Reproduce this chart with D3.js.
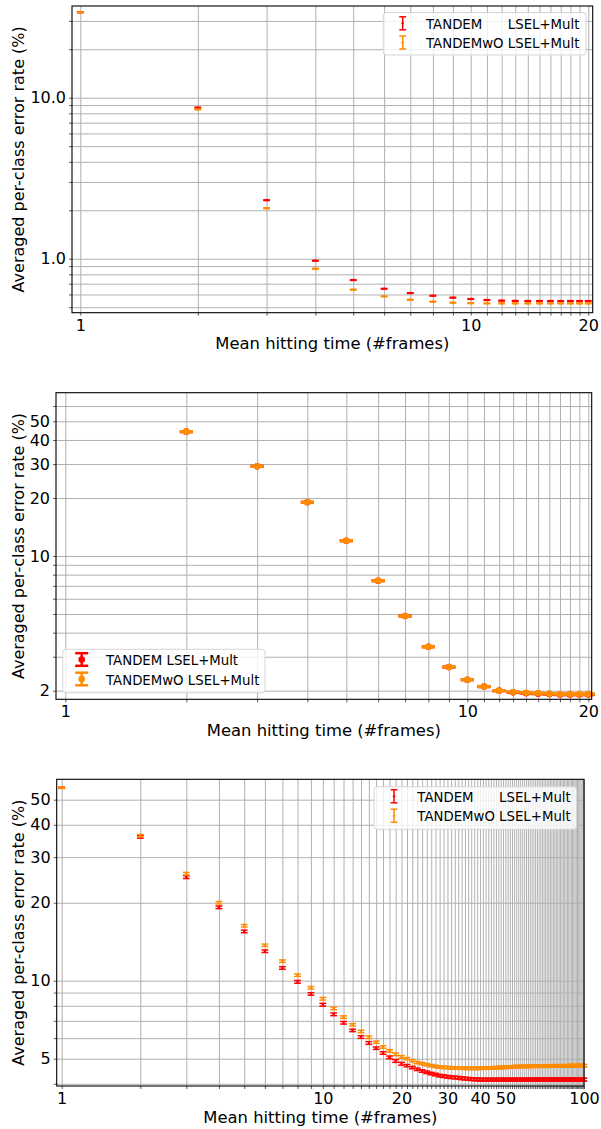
<!DOCTYPE html>
<html>
<head>
<meta charset="utf-8">
<script src="https://cdn.jsdelivr.net/npm/d3@7"></script>
<style>
  body { margin: 0; background: #fff; }
  svg { display: block; }
  text { font-family: "DejaVu Sans", sans-serif; }
</style>
</head>
<body>
<div id="chart"></div>
<script>
// ---- data ----
const seriesNames = ["TANDEM", "TANDEMwO"];
const methodName = "LSEL+Mult";
const colors = ["#ff0000", "#ff8c00"];

// panel 1
const frames1 = [1, 2, 3, 4, 5, 6, 7, 8, 9, 10, 11, 12, 13, 14, 15, 16, 17, 18, 19, 20];
const red1 = [33.9, 8.67, 2.31, 0.972, 0.737, 0.651, 0.612, 0.589, 0.573, 0.562,
  0.554, 0.549, 0.547, 0.546, 0.546, 0.546, 0.546, 0.546, 0.546, 0.546];
const red1Err = [0.15, 0.05, 0.012, 0.005, 0.004, 0.003, 0.003, 0.003, 0.003, 0.003,
  0.003, 0.003, 0.003, 0.003, 0.003, 0.003, 0.003, 0.003, 0.003, 0.003];
const orange1 = [33.9, 8.47, 2.06, 0.867, 0.642, 0.584, 0.556, 0.541, 0.533, 0.530,
  0.528, 0.528, 0.528, 0.528, 0.528, 0.528, 0.528, 0.528, 0.528, 0.528];
const orange1Err = [0.15, 0.05, 0.012, 0.005, 0.004, 0.003, 0.003, 0.003, 0.003, 0.003,
  0.003, 0.003, 0.003, 0.003, 0.003, 0.003, 0.003, 0.003, 0.003, 0.003];
const xTicks1 = [1, 10, 20], xTickLabels1 = ["1", "10", "20"];
const yTicks1 = [1, 10], yTickLabels1 = ["1.0", "10.0"];

// panel 2
const frames2 = [2, 3, 4, 5, 6, 7, 8, 9, 10, 11, 12, 13, 14, 15, 16, 17, 18, 19, 20];
const red2 = [44.2, 29.2, 19.0, 12.0, 7.44, 4.88, 3.38, 2.65, 2.28, 2.10,
  2.00, 1.96, 1.94, 1.93, 1.92, 1.91, 1.91, 1.91, 1.91];
const red2Err = [0.2, 0.13, 0.08, 0.05, 0.03, 0.02, 0.015, 0.012, 0.01, 0.01,
  0.01, 0.01, 0.01, 0.01, 0.01, 0.01, 0.01, 0.01, 0.01];
const orange2 = [44.2, 29.2, 19.0, 12.0, 7.44, 4.88, 3.38, 2.65, 2.28, 2.10,
  2.00, 1.97, 1.95, 1.94, 1.93, 1.92, 1.92, 1.92, 1.92];
const orange2Err = [0.2, 0.13, 0.08, 0.05, 0.03, 0.02, 0.015, 0.012, 0.01, 0.01,
  0.01, 0.01, 0.01, 0.01, 0.01, 0.01, 0.01, 0.01, 0.01];
const xTicks2 = [1, 10, 20], xTickLabels2 = ["1", "10", "20"];
const yTicks2 = [2, 10, 20, 30, 40, 50], yTickLabels2 = ["2", "10", "20", "30", "40", "50"];

// panel 3
const frames3 = d3.range(1, 101);
const red3 = [
  55.6, 35.9, 25.1, 19.2, 15.5, 13.0, 11.2, 9.90, 8.89, 8.08,
  7.42, 6.88, 6.43, 6.06, 5.75, 5.49, 5.26, 5.06, 4.90, 4.78,
  4.70, 4.62, 4.55, 4.48, 4.43, 4.38, 4.34, 4.30, 4.28, 4.26,
  4.24, 4.23, 4.22, 4.20, 4.19, 4.18, 4.17, 4.16, 4.16, 4.15,
  4.15, 4.15, 4.15, 4.15, 4.15, 4.15, 4.15, 4.15, 4.15, 4.15,
  4.15, 4.15, 4.15, 4.15, 4.15, 4.15, 4.15, 4.15, 4.15, 4.15,
  4.15, 4.15, 4.15, 4.15, 4.15, 4.15, 4.15, 4.15, 4.15, 4.15,
  4.15, 4.15, 4.15, 4.15, 4.15, 4.15, 4.15, 4.15, 4.15, 4.15,
  4.15, 4.15, 4.15, 4.15, 4.15, 4.15, 4.15, 4.15, 4.15, 4.15,
  4.15, 4.15, 4.15, 4.15, 4.15, 4.15, 4.15, 4.15, 4.15, 4.15];
const red3Err = [
  0.3, 0.4, 0.3, 0.22, 0.18, 0.15, 0.13, 0.12, 0.1, 0.1,
  0.09, 0.08, 0.07, 0.07, 0.07, 0.06, 0.06, 0.06, 0.06, 0.06,
  0.05, 0.05, 0.05, 0.05, 0.05, 0.05, 0.05, 0.05, 0.05, 0.05,
  0.05, 0.05, 0.05, 0.05, 0.05, 0.05, 0.05, 0.05, 0.05, 0.05,
  0.05, 0.05, 0.05, 0.05, 0.05, 0.05, 0.05, 0.05, 0.05, 0.05,
  0.05, 0.05, 0.05, 0.05, 0.05, 0.05, 0.05, 0.05, 0.05, 0.05,
  0.05, 0.05, 0.05, 0.05, 0.05, 0.05, 0.05, 0.05, 0.05, 0.05,
  0.05, 0.05, 0.05, 0.05, 0.05, 0.05, 0.05, 0.05, 0.05, 0.05,
  0.05, 0.05, 0.05, 0.05, 0.05, 0.05, 0.05, 0.05, 0.05, 0.05,
  0.05, 0.05, 0.05, 0.05, 0.05, 0.05, 0.05, 0.05, 0.05, 0.05];
const orange3 = [
  55.6, 36.3, 25.9, 20.0, 16.3, 13.7, 11.9, 10.5, 9.40, 8.52,
  7.82, 7.24, 6.76, 6.37, 6.05, 5.79, 5.55, 5.36, 5.20, 5.08,
  5.00, 4.91, 4.83, 4.78, 4.74, 4.70, 4.67, 4.64, 4.63, 4.62,
  4.61, 4.60, 4.60, 4.60, 4.59, 4.59, 4.59, 4.59, 4.59, 4.59,
  4.60, 4.60, 4.60, 4.60, 4.61, 4.61, 4.62, 4.62, 4.63, 4.63,
  4.64, 4.64, 4.65, 4.65, 4.66, 4.66, 4.66, 4.67, 4.67, 4.67,
  4.67, 4.67, 4.68, 4.68, 4.68, 4.68, 4.68, 4.68, 4.68, 4.68,
  4.68, 4.68, 4.68, 4.69, 4.69, 4.69, 4.69, 4.69, 4.69, 4.69,
  4.69, 4.69, 4.69, 4.69, 4.69, 4.69, 4.69, 4.70, 4.70, 4.70,
  4.70, 4.70, 4.70, 4.70, 4.70, 4.70, 4.70, 4.70, 4.70, 4.70];
const orange3Err = [
  0.3, 0.4, 0.3, 0.22, 0.18, 0.15, 0.13, 0.12, 0.1, 0.1,
  0.09, 0.08, 0.07, 0.07, 0.07, 0.06, 0.06, 0.06, 0.06, 0.06,
  0.05, 0.05, 0.05, 0.05, 0.05, 0.05, 0.05, 0.05, 0.05, 0.05,
  0.05, 0.05, 0.05, 0.05, 0.05, 0.05, 0.05, 0.05, 0.05, 0.05,
  0.05, 0.05, 0.05, 0.05, 0.05, 0.05, 0.05, 0.05, 0.05, 0.05,
  0.05, 0.05, 0.05, 0.05, 0.05, 0.05, 0.05, 0.05, 0.05, 0.05,
  0.05, 0.05, 0.05, 0.05, 0.05, 0.05, 0.05, 0.05, 0.05, 0.05,
  0.05, 0.05, 0.05, 0.05, 0.05, 0.05, 0.05, 0.05, 0.05, 0.05,
  0.05, 0.05, 0.05, 0.05, 0.05, 0.05, 0.05, 0.05, 0.05, 0.05,
  0.05, 0.05, 0.05, 0.05, 0.05, 0.05, 0.05, 0.05, 0.05, 0.05];
const xTicks3 = [1, 10, 20, 30, 40, 50, 100], xTickLabels3 = ["1", "10", "20", "30", "40", "50", "100"];
const yTicks3 = [5, 10, 20, 30, 40, 50], yTickLabels3 = ["5", "10", "20", "30", "40", "50"];

const xLabel = "Mean hitting time (#frames)";
const yLabel = "Averaged per-class error rate (%)";

// ---- chart ----
const svg = d3.select("#chart")
    .append("svg")
    .attr("width", 601)
    .attr("height", 1129);

const thin = { lw: 1.5, cap: 3.4, capLw: 1.5, r: 1.2 };
const thick = { lw: 2.5, cap: 6.5, capLw: 2.5, r: 3.3 };

const panels = [
  {
    left: 72, right: 592.7, top: 6, bottom: 312.7,
    xDomain: [0.9522, 20.53], yDomain: [0.4622, 37.12],
    gridX: d3.range(1, 21),
    gridY: [0.5, 0.6, 0.7, 0.8, 0.9, 1, 2, 3, 4, 5, 6, 7, 8, 9, 10, 20, 30],
    xTicks: xTicks1, xTickLabels: xTickLabels1, yTicks: yTicks1, yTickLabels: yTickLabels1,
    series: [
      { frames: frames1, values: red1, err: red1Err, color: colors[0] },
      { frames: frames1, values: orange1, err: orange1Err, color: colors[1] }
    ],
    style: thin,
    legend: { x0: 383.3, x1: 586, y0: 12.5, y1: 55, handleX: 402.7, textX: 426, rows: [24.3, 43.5], aligned: true }
  },
  {
    left: 56, right: 591.7, top: 392.7, bottom: 699.3,
    xDomain: [0.948, 20.39], yDomain: [1.804, 70.38],
    gridX: d3.range(1, 21),
    gridY: [2, 3, 4, 5, 6, 7, 8, 9, 10, 20, 30, 40, 50, 60],
    xTicks: xTicks2, xTickLabels: xTickLabels2, yTicks: yTicks2, yTickLabels: yTickLabels2,
    series: [
      { frames: frames2, values: red2, err: red2Err, color: colors[0] },
      { frames: frames2, values: orange2, err: orange2Err, color: colors[1] }
    ],
    style: thick,
    legend: { x0: 62.7, x1: 265, y0: 649.3, y1: 692.7, handleX: 81.7, textX: 106, rows: [660.5, 680], aligned: false }
  },
  {
    left: 56.7, right: 584, top: 779.3, bottom: 1086,
    xDomain: [0.957, 100], yDomain: [3.922, 59.93],
    gridX: d3.range(1, 101),
    gridY: [4, 5, 6, 7, 8, 9, 10, 20, 30, 40, 50],
    xTicks: xTicks3, xTickLabels: xTickLabels3, yTicks: yTicks3, yTickLabels: yTickLabels3,
    series: [
      { frames: frames3, values: red3, err: red3Err, color: colors[0] },
      { frames: frames3, values: orange3, err: orange3Err, color: colors[1] }
    ],
    style: thin,
    legend: { x0: 374, x1: 576.7, y0: 786.7, y1: 829.3, handleX: 394, textX: 417.3, rows: [797.3, 816.7], aligned: true }
  }
];

function drawErrorBar(g, cx, yLo, yHi, yMid, color, st) {
  g.append("line").attr("x1", cx).attr("x2", cx).attr("y1", yLo).attr("y2", yHi)
    .attr("stroke", color).attr("stroke-width", st.lw);
  [yLo, yHi].forEach(yy => {
    g.append("line").attr("x1", cx - st.cap).attr("x2", cx + st.cap).attr("y1", yy).attr("y2", yy)
      .attr("stroke", color).attr("stroke-width", st.capLw);
  });
  g.append("circle").attr("cx", cx).attr("cy", yMid).attr("r", st.r).attr("fill", color);
}

function drawPanel(p) {
  const x = d3.scaleLog().domain(p.xDomain).range([p.left, p.right]);
  const y = d3.scaleLog().domain(p.yDomain).range([p.bottom, p.top]);
  const w = p.right - p.left, h = p.bottom - p.top;
  const g = svg.append("g");

  // grid
  g.append("g")
    .attr("transform", `translate(0,${p.bottom})`)
    .call(d3.axisBottom(x).tickValues(p.gridX).tickSize(-h).tickFormat(""))
    .call(s => s.select(".domain").remove())
    .call(s => s.selectAll("line").attr("stroke", "#b0b0b0").attr("stroke-width", 1));
  g.append("g")
    .attr("transform", `translate(${p.left},0)`)
    .call(d3.axisLeft(y).tickValues(p.gridY).tickSize(-w).tickFormat(""))
    .call(s => s.select(".domain").remove())
    .call(s => s.selectAll("line").attr("stroke", "#b0b0b0").attr("stroke-width", 1));

  // small outer ticks
  g.append("g")
    .attr("transform", `translate(0,${p.bottom})`)
    .call(d3.axisBottom(x).tickValues(p.gridX).tickSize(3).tickFormat(""))
    .call(s => s.select(".domain").remove())
    .call(s => s.selectAll("line").attr("stroke", "#333").attr("stroke-width", 0.8));
  g.append("g")
    .attr("transform", `translate(${p.left},0)`)
    .call(d3.axisLeft(y).tickValues(p.gridY).tickSize(3).tickFormat(""))
    .call(s => s.select(".domain").remove())
    .call(s => s.selectAll("line").attr("stroke", "#333").attr("stroke-width", 0.8));

  // tick labels
  g.append("g")
    .attr("transform", `translate(0,${p.bottom})`)
    .call(d3.axisBottom(x).tickValues(p.xTicks).tickSize(0).tickPadding(6.6)
      .tickFormat((d, i) => p.xTickLabels[i]))
    .call(s => s.select(".domain").remove())
    .call(s => s.selectAll("text").attr("font-size", 16).attr("font-family", "DejaVu Sans").attr("fill", "#000"));
  g.append("g")
    .attr("transform", `translate(${p.left},0)`)
    .call(d3.axisLeft(y).tickValues(p.yTicks).tickSize(0).tickPadding(6)
      .tickFormat((d, i) => p.yTickLabels[i]))
    .call(s => s.select(".domain").remove())
    .call(s => s.selectAll("text").attr("font-size", 16).attr("font-family", "DejaVu Sans").attr("fill", "#000"));

  // error bars
  p.series.forEach(s => {
    const sg = g.append("g");
    s.values.forEach((v, i) => {
      const e = s.err[i];
      drawErrorBar(sg, x(s.frames[i]), y(v - e), y(v + e), y(v), s.color, p.style);
    });
  });

  // frame
  g.append("rect")
    .attr("x", p.left).attr("y", p.top).attr("width", w).attr("height", h)
    .attr("fill", "none").attr("stroke", "#000").attr("stroke-width", 1.1);

  // axis labels
  g.append("text")
    .attr("x", (p.left + p.right) / 2).attr("y", p.bottom + 36.5)
    .attr("text-anchor", "middle").attr("font-size", 16.4)
    .text(xLabel);
  g.append("text")
    .attr("transform", `translate(23.7,${(p.top + p.bottom) / 2}) rotate(-90)`)
    .attr("text-anchor", "middle").attr("font-size", 16)
    .text(yLabel);

  // legend
  const L = p.legend;
  const lg = g.append("g");
  lg.append("rect")
    .attr("x", L.x0).attr("y", L.y0).attr("width", L.x1 - L.x0).attr("height", L.y1 - L.y0)
    .attr("rx", 3).attr("fill", "#fff").attr("fill-opacity", 0.8)
    .attr("stroke", "#d5d5d5").attr("stroke-width", 1);

  // width of the first column for aligned labels
  let colOffset = 0;
  if (L.aligned) {
    const t1 = lg.append("text").attr("font-size", 13.3).text(seriesNames[1] + " " + methodName);
    const t2 = lg.append("text").attr("font-size", 13.3).text(methodName);
    colOffset = t1.node().getComputedTextLength() - t2.node().getComputedTextLength();
    t1.remove(); t2.remove();
  }

  seriesNames.forEach((name, i) => {
    const cy = L.rows[i];
    const half = p.style === thick ? 6.3 : 6.5;
    drawErrorBar(lg, L.handleX, cy + half - 1, cy - half - 1, cy - 1, colors[i], p.style);
    if (L.aligned) {
      lg.append("text").attr("x", L.textX).attr("y", cy).attr("dy", "0.36em")
        .attr("font-size", 13.3).text(name);
      lg.append("text").attr("x", L.textX + colOffset).attr("y", cy).attr("dy", "0.36em")
        .attr("font-size", 13.3).text(methodName);
    } else {
      lg.append("text").attr("x", L.textX).attr("y", cy).attr("dy", "0.36em")
        .attr("font-size", 13.3).text(name + " " + methodName);
    }
  });
}

panels.forEach(drawPanel);
</script>
</body>
</html>
